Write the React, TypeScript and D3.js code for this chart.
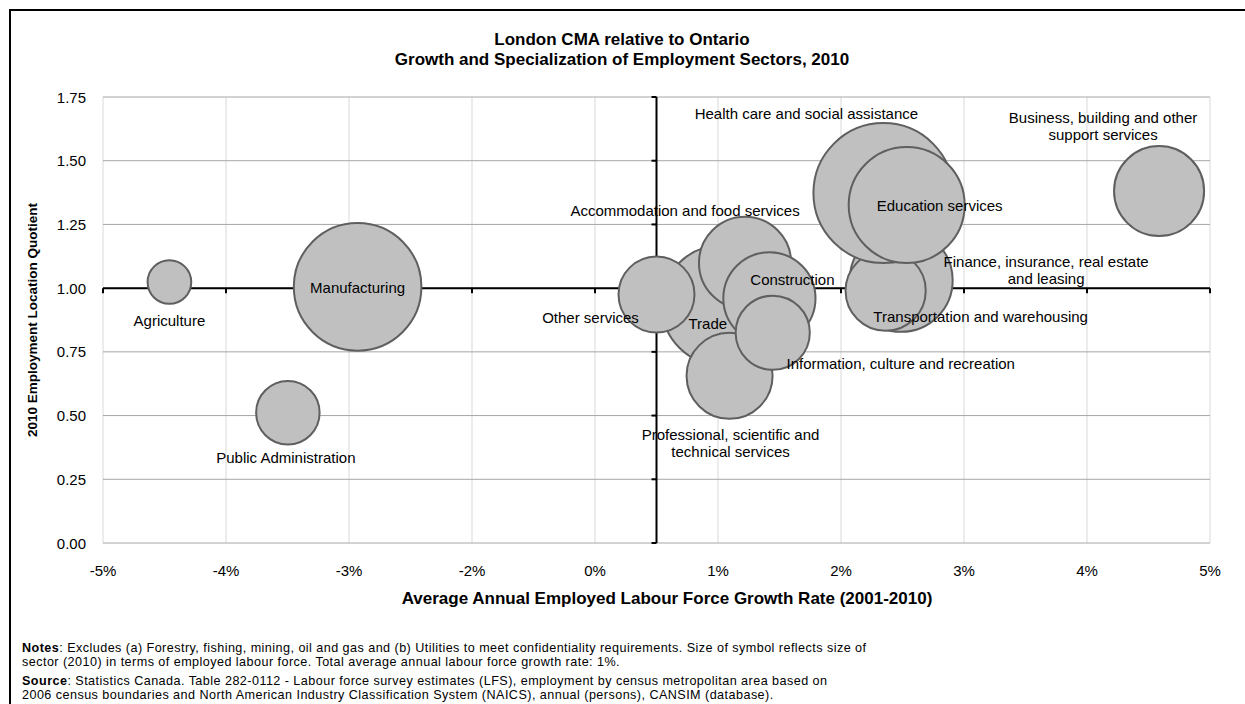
import React from "react";
import * as d3 from "d3";

// ---------- data ----------
const sectors = [
  "Agriculture",
  "Manufacturing",
  "Public Administration",
  "Trade",
  "Finance, insurance, real estate and leasing",
  "Transportation and warehousing",
  "Health care and social assistance",
  "Education services",
  "Other services",
  "Accommodation and food services",
  "Construction",
  "Professional, scientific and technical services",
  "Information, culture and recreation",
  "Business, building and other support services",
];
// average annual employed labour force growth rate, % (2001-2010)
const growthRate = [-4.4, -2.7, -3.33, 0.59, 2.21, 2.07, 2.05, 2.26, 0.0, 0.8, 1.02, 0.66, 1.05, 4.54];
// 2010 employment location quotient
const locationQuotient = [1.024, 1.005, 0.511, 0.933, 1.031, 0.99, 1.373, 1.326, 0.975, 1.099, 0.96, 0.656, 0.825, 1.381];
// sector size (thousands employed, 2010)
const employment = [3.5, 29.9, 7.4, 26.5, 19.5, 11.8, 36.0, 24.7, 10.6, 15.6, 15.6, 13.6, 10.1, 14.9];

// label text lines
const labelLines = [
  ["Agriculture"],
  ["Manufacturing"],
  ["Public Administration"],
  ["Trade"],
  ["Finance, insurance, real estate", "and leasing"],
  ["Transportation and warehousing"],
  ["Health care and social assistance"],
  ["Education services"],
  ["Other services"],
  ["Accommodation and food services"],
  ["Construction"],
  ["Professional, scientific and", "technical services"],
  ["Information, culture and recreation"],
  ["Business, building and other", "support services"],
];
// label offsets from bubble centre (px) for the first line
const labelDX = [0, 0, -2, -14, 145, 95, -77, 33, -66, -60, 23, 1, 128, -56];
const labelDY = [38, 0, 44, 18, -19, 25, -80, 0, 22, -53, -19, 58, 30, -74];

const xTickLabels = ["-5%", "-4%", "-3%", "-2%", "0%", "1%", "2%", "3%", "4%", "5%"];
const yTickValues = [0, 0.25, 0.5, 0.75, 1.0, 1.25, 1.5, 1.75];

const titleLines = ["London CMA relative to Ontario", "Growth and Specialization of Employment Sectors, 2010"];
const xTitle = "Average Annual Employed Labour Force Growth Rate (2001-2010)";
const yTitle = "2010 Employment Location Quotient";
const notes = [
  { bold: "Notes", text: ": Excludes  (a) Forestry, fishing, mining, oil and gas and (b) Utilities to meet confidentiality requirements. Size of symbol reflects size of" },
  { bold: "", text: "sector (2010) in terms of employed labour force. Total average annual labour force growth rate: 1%." },
  { bold: "Source", text: ": Statistics Canada. Table 282-0112 - Labour force survey estimates (LFS), employment by census metropolitan area based on" },
  { bold: "", text: "2006 census boundaries and North American Industry Classification System (NAICS), annual (persons), CANSIM (database)." },
];

// ---------- layout ----------
const W = 1245;
const H = 704;
const FONT = "'Liberation Sans', Arial, Helvetica, sans-serif";
const NOTE_BASELINES = [652, 666, 685, 699];

export default function App() {
  const x = d3.scaleLinear().domain([-5, 5]).range([103, 1210]);
  const y = d3.scaleLinear().domain([0, 1.75]).range([543, 97]);
  const r = d3.scaleSqrt().domain([0, 36]).range([0, 70]);
  const xTickValues = d3.range(xTickLabels.length).map((i) => -5 + (i * 10) / (xTickLabels.length - 1));

  const [x0, x1] = x.range();
  const [yb, yt] = y.range();
  const axisY = y(1);
  const axisX = x(0);

  return (
    <svg
      width={W}
      height={H}
      style={{ position: "absolute", left: 0, top: 0, background: "#fff" }}
      fontFamily={FONT}
    >
      <rect x={0} y={0} width={W} height={H} fill="#fff" />
      {/* frame */}
      <rect x={10} y={10} width={W + 20} height={H + 20} fill="none" stroke="#000" strokeWidth={2} />

      {/* title */}
      {titleLines.map((t, i) => (
        <text key={i} x={622} y={39 + i * 20} textAnchor="middle" dominantBaseline="central" fontWeight="bold" fontSize={17}>
          {t}
        </text>
      ))}

      {/* vertical gridlines */}
      {xTickValues.map((v, i) => (
        <line key={"vg" + i} x1={x(v)} x2={x(v)} y1={yt} y2={yb} stroke="#d9d9d9" strokeWidth={1} />
      ))}
      {/* horizontal gridlines */}
      {yTickValues.map((v, i) => (
        <line key={"hg" + i} x1={x0} x2={x1} y1={y(v)} y2={y(v)} stroke="#a6a6a6" strokeWidth={1} />
      ))}

      {/* axes */}
      <line x1={x0} x2={x1} y1={axisY} y2={axisY} stroke="#000" strokeWidth={2} />
      {xTickValues.map((v, i) => (
        <line key={"xt" + i} x1={x(v)} x2={x(v)} y1={axisY} y2={axisY + 5} stroke="#000" strokeWidth={2} />
      ))}
      <line x1={axisX} x2={axisX} y1={yt} y2={yb} stroke="#000" strokeWidth={2} />
      {yTickValues.map((v, i) => (
        <line key={"yt" + i} x1={axisX - 5} x2={axisX} y1={y(v)} y2={y(v)} stroke="#000" strokeWidth={2} />
      ))}

      {/* bubbles */}
      {sectors.map((s, i) => (
        <circle
          key={s}
          cx={x(growthRate[i])}
          cy={y(locationQuotient[i])}
          r={r(employment[i])}
          fill="#c0c0c0"
          stroke="#5f5f5f"
          strokeWidth={2}
        />
      ))}

      {/* bubble labels */}
      {sectors.map((s, i) => (
        <text
          key={"l" + s}
          x={x(growthRate[i]) + labelDX[i]}
          y={y(locationQuotient[i]) + labelDY[i]}
          textAnchor="middle"
          dominantBaseline="central"
          fontSize={15}
        >
          {labelLines[i].map((ln, j) => (
            <tspan key={j} x={x(growthRate[i]) + labelDX[i]} dy={j === 0 ? 0 : 17}>
              {ln}
            </tspan>
          ))}
        </text>
      ))}

      {/* y tick labels */}
      {yTickValues.map((v, i) => (
        <text key={"yl" + i} x={86} y={y(v)} textAnchor="end" dominantBaseline="central" fontSize={15}>
          {v.toFixed(2)}
        </text>
      ))}
      {/* x tick labels */}
      {xTickValues.map((v, i) => (
        <text key={"xl" + i} x={x(v)} y={570} textAnchor="middle" dominantBaseline="central" fontSize={15}>
          {xTickLabels[i]}
        </text>
      ))}

      {/* axis titles */}
      <text x={667} y={598} textAnchor="middle" dominantBaseline="central" fontWeight="bold" fontSize={17}>
        {xTitle}
      </text>
      <text
        transform={`translate(32, ${(yt + yb) / 2}) rotate(-90)`}
        textAnchor="middle"
        dominantBaseline="central"
        fontWeight="bold"
        fontSize={13.5}
      >
        {yTitle}
      </text>

      {/* notes */}
      {notes.map((n, i) => (
        <text key={"n" + i} x={22} y={NOTE_BASELINES[i]} fontSize={12.6} letterSpacing={0.45}>
          {n.bold && <tspan fontWeight="bold">{n.bold}</tspan>}
          <tspan>{n.text}</tspan>
        </text>
      ))}
    </svg>
  );
}
